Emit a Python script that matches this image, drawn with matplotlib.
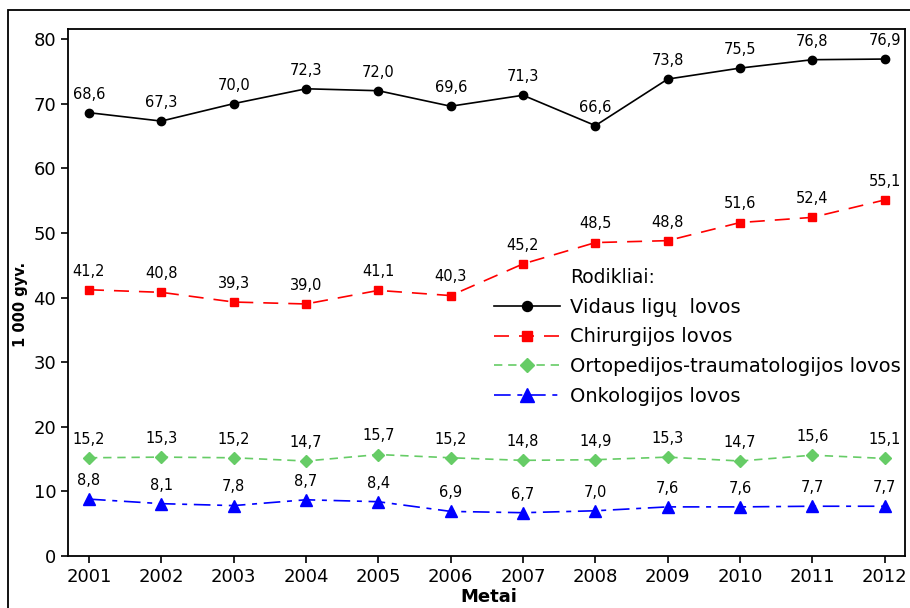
import matplotlib.pyplot as plt
from matplotlib.patches import Rectangle

years = [2001, 2002, 2003, 2004, 2005, 2006, 2007, 2008, 2009, 2010, 2011, 2012]
vidaus = [68.6, 67.3, 70.0, 72.3, 72.0, 69.6, 71.3, 66.6, 73.8, 75.5, 76.8, 76.9]
chirurgijos = [41.2, 40.8, 39.3, 39.0, 41.1, 40.3, 45.2, 48.5, 48.8, 51.6, 52.4, 55.1]
ortopedijos = [15.2, 15.3, 15.2, 14.7, 15.7, 15.2, 14.8, 14.9, 15.3, 14.7, 15.6, 15.1]
onkologijos = [8.8, 8.1, 7.8, 8.7, 8.4, 6.9, 6.7, 7.0, 7.6, 7.6, 7.7, 7.7]
names = ["Vidaus ligų  lovos", "Chirurgijos lovos",
         "Ortopedijos-traumatologijos lovos", "Onkologijos lovos"]

plt.rcParams['font.family'] = ['DejaVu Sans']

W, H = 910, 608
fig = plt.figure(figsize=(W/100, H/100), dpi=100)
ax = fig.add_axes([68/W, 1-556/H, (905-68)/W, (556-29)/H])

# outer frame around the whole chart
fig.patches.append(Rectangle((8/W, -0.05), 1.1, 1-10/H+0.05, transform=fig.transFigure,
                             fill=False, edgecolor='black', linewidth=1.3))

series = [
    (vidaus, dict(color='black', linestyle='-', marker='o', markersize=6)),
    (chirurgijos, dict(color='#ff0000', linestyle=(0, (9, 6)), marker='s', markersize=6)),
    (ortopedijos, dict(color='#66cc66', linestyle=(0, (5, 3.5)), marker='D', markersize=6)),
    (onkologijos, dict(color='#0000ff', linestyle=(0, (10, 4, 3, 4)), marker='^', markersize=8)),
]

for (vals, style), name in zip(series, names):
    ax.plot(years, vals, linewidth=1.2, label=name, **style)
    for x, y in zip(years, vals):
        ax.annotate(f"{y:.1f}".replace('.', ','), (x, y), xytext=(0, 8),
                    textcoords='offset points', ha='center', va='bottom', fontsize=10.5)

ax.set_xlim(2000.71, 2012.28)
ax.set_ylim(0, 81.55)
ax.set_xticks(years)
ax.set_yticks(range(0, 81, 10))
ax.tick_params(axis='both', labelsize=13, direction='out', length=5, width=1.2)
for s in ax.spines.values():
    s.set_linewidth(1.3)

ax.set_ylabel("1 000 gyv.", fontsize=10.5, fontweight='bold', va='center')
ax.yaxis.set_label_coords((20-68)/(905-68), (556-304)/(556-29))
ax.set_xlabel("Metai", fontsize=13, fontweight='bold', va='center')
ax.xaxis.set_label_coords((489-68)/(905-68), -(597-556)/(556-29))

fig.text(570/W, 1-277/H, "Rodikliai:", fontsize=13.5, ha='left', va='center')
ax.legend(loc='upper left', bbox_to_anchor=(486/W, 1-290/H), bbox_transform=fig.transFigure,
          frameon=False, fontsize=14, handlelength=3.4, handletextpad=0.5,
          labelspacing=0.55, borderaxespad=0, markerscale=1.2)

fig.savefig("out.png", dpi=100)
